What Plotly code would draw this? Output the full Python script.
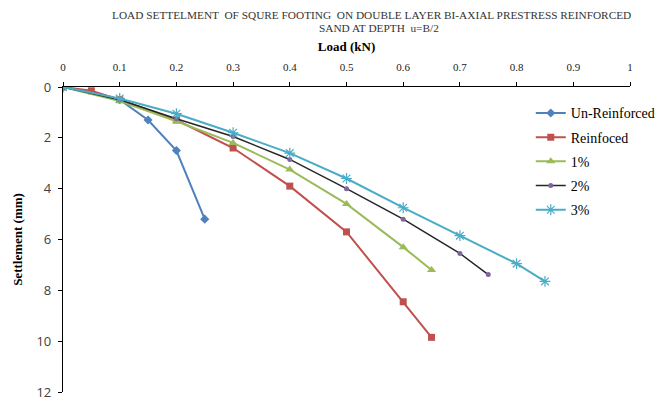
import plotly.graph_objects as go

names = ["Un-Reinforced", "Reinfoced", "1%", "2%", "3%"]

x_unr = [0, 0.1, 0.15, 0.2, 0.25]
y_unr = [0, 0.5, 1.3, 2.5, 5.2]

x_rein = [0, 0.05, 0.1, 0.2, 0.3, 0.4, 0.5, 0.6, 0.65]
y_rein = [0, 0.15, 0.5, 1.3, 2.4, 3.9, 5.7, 8.45, 9.85]

x_p1 = [0, 0.1, 0.2, 0.3, 0.4, 0.5, 0.6, 0.65]
y_p1 = [0, 0.55, 1.35, 2.2, 3.25, 4.6, 6.3, 7.2]

x_p2 = [0, 0.1, 0.2, 0.3, 0.4, 0.5, 0.6, 0.7, 0.75]
y_p2 = [0, 0.5, 1.25, 1.95, 2.85, 4.0, 5.2, 6.55, 7.38]

x_p3 = [0, 0.1, 0.2, 0.3, 0.4, 0.5, 0.6, 0.7, 0.8, 0.85]
y_p3 = [0, 0.45, 1.05, 1.8, 2.6, 3.6, 4.75, 5.85, 6.95, 7.65]

x_ticks = [0, 0.1, 0.2, 0.3, 0.4, 0.5, 0.6, 0.7, 0.8, 0.9, 1]
x_tick_labels = ["0", "0.1", "0.2", "0.3", "0.4", "0.5", "0.6", "0.7", "0.8", "0.9", "1"]
y_ticks = [0, 2, 4, 6, 8, 10, 12]

title_line1 = "LOAD SETTELMENT  OF SQURE FOOTING  ON DOUBLE LAYER BI-AXIAL PRESTRESS REINFORCED"
title_line2 = "SAND AT DEPTH  u=B/2"

SERIF = "Liberation Serif"

fig = go.Figure()
fig.add_trace(go.Scatter(x=x_unr, y=y_unr, name=names[0], mode="lines+markers", legendgroup="a",
                         line=dict(color="#4F81BD", width=2),
                         marker=dict(symbol="diamond", size=7, color="#4F81BD")))
fig.add_trace(go.Scatter(x=x_rein, y=y_rein, name=names[1], mode="lines+markers", legendgroup="b",
                         line=dict(color="#C0504D", width=2),
                         marker=dict(symbol="square", size=7, color="#C0504D")))
fig.add_trace(go.Scatter(x=x_p1, y=y_p1, name=names[2], mode="lines+markers", legendgroup="c",
                         line=dict(color="#9BBB59", width=2),
                         marker=dict(symbol="triangle-up", size=8, color="#9BBB59")))
fig.add_trace(go.Scatter(x=x_p2, y=y_p2, name=names[3], mode="lines+markers", legendgroup="d",
                         line=dict(color="#262626", width=1.5),
                         marker=dict(symbol="circle", size=5, color="#8064A2")))
fig.add_trace(go.Scatter(x=x_p3, y=y_p3, name=names[4], mode="lines+markers", legendgroup="e",
                         line=dict(color="#4BACC6", width=2),
                         marker=dict(symbol="asterisk-open", size=9,
                                     line=dict(color="#8FD3E8", width=1.2))))

fig.update_layout(
    width=659, height=401,
    margin=dict(l=63, r=29, t=87, b=9, autoexpand=False),
    paper_bgcolor="white", plot_bgcolor="white",
    font=dict(family=SERIF, color="#000"),
    showlegend=True,
    legend=dict(x=0.825, y=0.966, xanchor="left", yanchor="top",
                font=dict(family=SERIF, size=14, color="#000"),
                tracegroupgap=3, itemwidth=30, bgcolor="rgba(0,0,0,0)"),
    xaxis=dict(side="top", range=[0, 1], tickvals=x_ticks, ticktext=x_tick_labels,
               automargin=False,
               showline=True, linecolor="#000", linewidth=1.3, ticks="outside",
               ticklen=4, tickcolor="#000", showgrid=False, zeroline=False,
               ticklabelstandoff=6,
               tickfont=dict(family=SERIF, size=11, color="#222"),
               title=dict(text="<b>Load (kN)</b>", standoff=6,
                          font=dict(family=SERIF, size=13, color="#000"))),
    yaxis=dict(range=[12, 0], tickvals=y_ticks, automargin=False,
               showline=True, linecolor="#000", linewidth=1.3, ticks="outside",
               ticklen=4, tickcolor="#000", showgrid=False, zeroline=False,
               ticklabelstandoff=4,
               tickfont=dict(family="Open Sans", size=13, color="#404040"),
               title=dict(text="<b>Settlement (mm)</b>", standoff=10,
                          font=dict(family=SERIF, size=13, color="#000"))),
    annotations=[
        dict(text=title_line1, xref="paper", yref="paper", x=(371 - 63) / 567, y=1.0,
             yshift=87 - 15, xanchor="center", yanchor="middle", showarrow=False,
             font=dict(family=SERIF, size=11.3, color="#333")),
        dict(text=title_line2, xref="paper", yref="paper", x=(379 - 63) / 567, y=1.0,
             yshift=87 - 28, xanchor="center", yanchor="middle", showarrow=False,
             font=dict(family=SERIF, size=11.3, color="#333")),
    ],
)

fig.write_html(
    "out.html",
    config={"displayModeBar": False},
    post_script=(
        "document.body.style.margin='0';"
        "document.body.style.overflow='hidden';"
        "var gd=document.getElementById('{plot_id}');"
        "Plotly.relayout(gd,{width:659,height:401});"
    ),
)
